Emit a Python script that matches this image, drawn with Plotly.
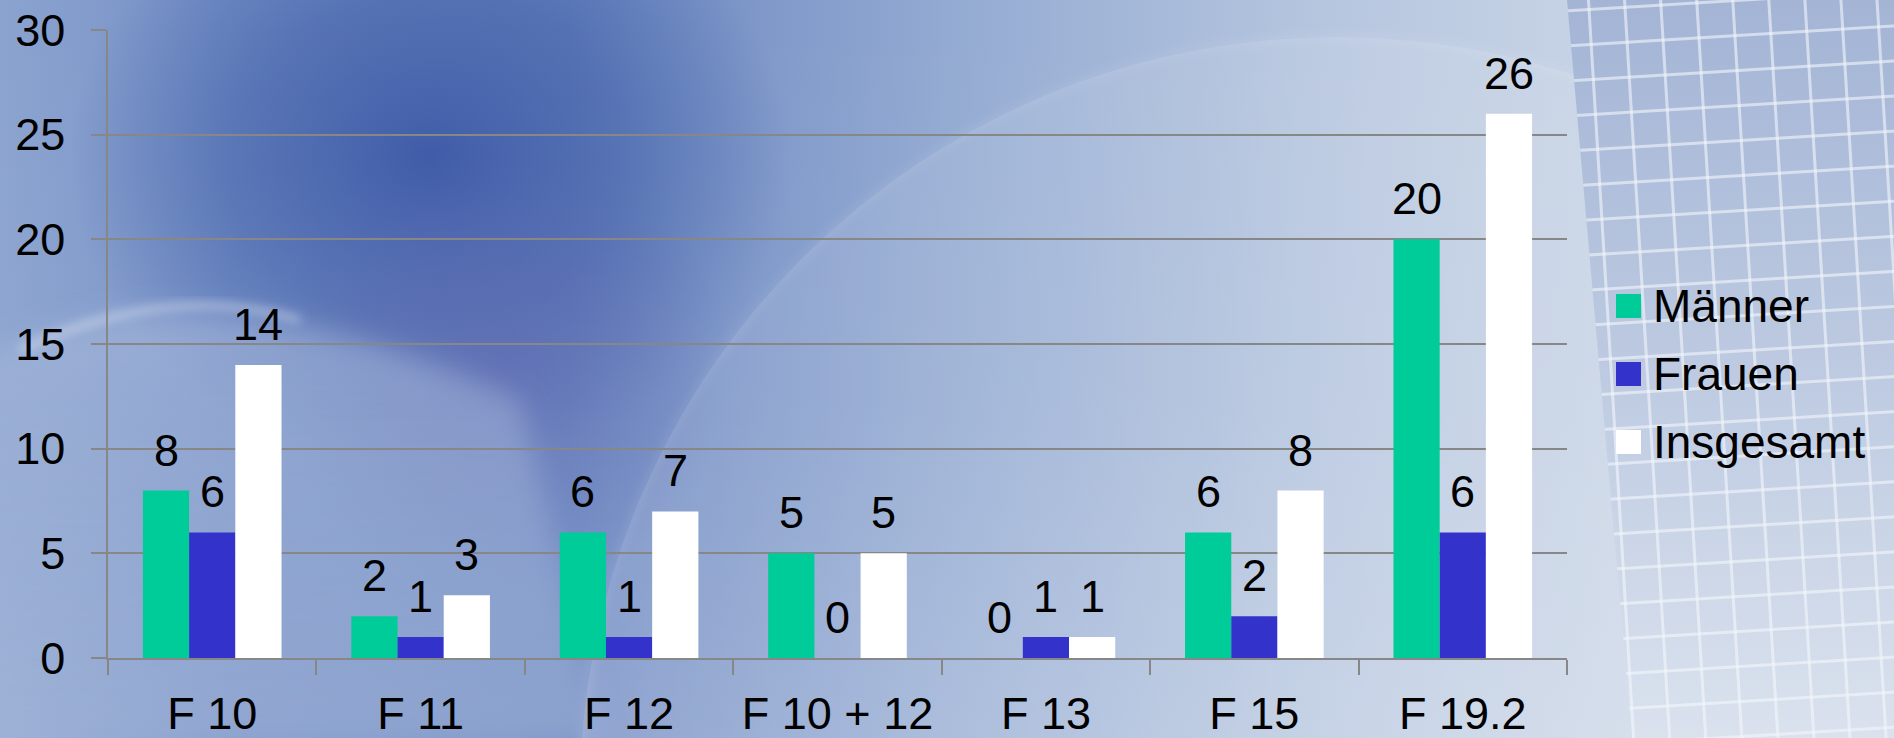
import base64
import plotly.graph_objects as go

# ---------------- data ----------------
categories = ["F 10", "F 11", "F 12", "F 10 + 12", "F 13", "F 15", "F 19.2"]
maenner = [8, 2, 6, 5, 0, 6, 20]
frauen = [6, 1, 1, 0, 1, 2, 6]
insgesamt = [14, 3, 7, 5, 1, 8, 26]
series_names = ["Männer", "Frauen", "Insgesamt"]
series_colors = ["#00CC99", "#3333CC", "#FFFFFF"]
y_ticks = [0, 5, 10, 15, 20, 25, 30]

# ---------------- geometry ----------------
W, H = 1894, 738
L, R, T, B = 108, 327, 30, 80
PW, PH = W - L - R, H - T - B
BARGAP = 0.335
FONT = "Liberation Sans, Arial, sans-serif"
FS = 45
GRID = "#878787"


def px2x(px):
    return (px - L) / PW


def py2y(py):
    return (H - B - py) / PH


# ---------------- background (svg) ----------------
svg = f"""<svg xmlns='http://www.w3.org/2000/svg' width='{W}' height='{H}' viewBox='0 0 {W} {H}' preserveAspectRatio='none'>
<defs>
<linearGradient id='base' x1='0' y1='0' x2='1' y2='0'>
 <stop offset='0' stop-color='#8ba3cf'/>
 <stop offset='0.12' stop-color='#7590c6'/>
 <stop offset='0.3' stop-color='#6a86c0'/>
 <stop offset='0.5' stop-color='#93aad2'/>
 <stop offset='0.7' stop-color='#b6c6df'/>
 <stop offset='0.85' stop-color='#c8d4e6'/>
 <stop offset='1' stop-color='#dae2ee'/>
</linearGradient>
<linearGradient id='vert' x1='0' y1='0' x2='0' y2='1'>
 <stop offset='0' stop-color='#ffffff' stop-opacity='0'/>
 <stop offset='0.55' stop-color='#ffffff' stop-opacity='0.04'/>
 <stop offset='1' stop-color='#ffffff' stop-opacity='0.15'/>
</linearGradient>
<radialGradient id='dark' cx='430' cy='160' r='360' gradientUnits='userSpaceOnUse' gradientTransform='translate(430 160) scale(1 0.85) translate(-430 -160)'>
 <stop offset='0' stop-color='#3a57a6' stop-opacity='0.95'/>
 <stop offset='0.55' stop-color='#4462aa' stop-opacity='0.6'/>
 <stop offset='1' stop-color='#4a66ad' stop-opacity='0'/>
</radialGradient>
<radialGradient id='purple' cx='500' cy='370' r='230' gradientUnits='userSpaceOnUse'>
 <stop offset='0' stop-color='#5a62ae' stop-opacity='0.55'/>
 <stop offset='1' stop-color='#5a62ae' stop-opacity='0'/>
</radialGradient>
<linearGradient id='lowfill' x1='0' y1='0' x2='0' y2='1'>
 <stop offset='0' stop-color='#a6b8da' stop-opacity='0.55'/>
 <stop offset='1' stop-color='#8fa6cf' stop-opacity='0.35'/>
</linearGradient>
<linearGradient id='panel' x1='0' y1='0' x2='0' y2='1'>
 <stop offset='0' stop-color='#a3b4d5'/>
 <stop offset='0.5' stop-color='#bdcae1'/>
 <stop offset='1' stop-color='#dae2ee'/>
</linearGradient>
<pattern id='grid' width='36' height='35' patternUnits='userSpaceOnUse' patternTransform='rotate(-3.5)'>
 <rect x='0' y='0' width='36' height='3' fill='#f4f7fc' fill-opacity='0.6'/>
 <rect x='0' y='0' width='3' height='35' fill='#f4f7fc' fill-opacity='0.6'/>
</pattern>
<filter id='blur' x='-20%' y='-20%' width='140%' height='140%'><feGaussianBlur stdDeviation='5'/></filter>
<filter id='blur2' x='-20%' y='-20%' width='140%' height='140%'><feGaussianBlur stdDeviation='14'/></filter>
</defs>
<rect width='{W}' height='{H}' fill='url(#base)'/>
<rect width='{W}' height='{H}' fill='url(#dark)'/>
<rect width='{W}' height='{H}' fill='url(#purple)'/>
<path d='M -20 360 Q 190 250 520 400 L 600 {H} L -20 {H} Z' fill='url(#lowfill)' filter='url(#blur2)'/>
<path d='M 20 350 Q 170 280 300 320' fill='none' stroke='#ffffff' stroke-opacity='0.3' stroke-width='9' filter='url(#blur)'/>
<circle cx='1337' cy='794' r='757' fill='#ffffff' fill-opacity='0.10'/>
<circle cx='1337' cy='794' r='757' fill='none' stroke='#ffffff' stroke-opacity='0.2' stroke-width='3' filter='url(#blur)'/>
<rect width='{W}' height='{H}' fill='url(#vert)'/>
<polygon points='1567,0 {W},0 {W},{H} 1632,{H}' fill='url(#panel)'/>
<polygon points='1567,0 {W},0 {W},{H} 1632,{H}' fill='url(#grid)'/>
</svg>"""
bg_src = "data:image/svg+xml;base64," + base64.b64encode(svg.encode("utf-8")).decode("ascii")

# ---------------- figure ----------------
fig = go.Figure()
all_vals = [maenner, frauen, insgesamt]
for name, vals, col in zip(series_names, all_vals, series_colors):
    fig.add_trace(go.Bar(
        x=categories, y=vals, name=name,
        marker=dict(color=col, line=dict(width=0)),
        showlegend=False, hoverinfo="x+y+name",
    ))

cat_w = PW / len(categories)
bar_w = cat_w * (1 - BARGAP) / len(all_vals)

annotations = []
for i, vals in enumerate(all_vals):
    shift = (i - (len(all_vals) - 1) / 2) * bar_w
    for c, v in zip(categories, vals):
        annotations.append(dict(
            x=c, y=v, xref="x", yref="y", text=str(v), showarrow=False,
            xanchor="center", yanchor="bottom", xshift=shift, yshift=13,
            font=dict(family=FONT, size=FS, color="#000000"),
        ))

# custom legend
legend_rows_py = [306, 374, 442]
shapes = []
for name, col, cy in zip(series_names, series_colors, legend_rows_py):
    shapes.append(dict(
        type="rect", xref="paper", yref="paper",
        x0=px2x(1616), x1=px2x(1641), y0=py2y(cy + 12), y1=py2y(cy - 12),
        fillcolor=col, line=dict(width=0), layer="above",
    ))
    annotations.append(dict(
        x=px2x(1651), y=py2y(cy), xref="paper", yref="paper", text=name,
        showarrow=False, xanchor="left", yanchor="middle",
        font=dict(family=FONT, size=FS + 1, color="#000000"),
    ))

fig.update_layout(
    width=W, height=H,
    margin=dict(l=L, r=R, t=T, b=B, pad=0, autoexpand=False),
    paper_bgcolor="rgba(0,0,0,0)",
    plot_bgcolor="rgba(0,0,0,0)",
    barmode="group", bargap=BARGAP, bargroupgap=0,
    font=dict(family=FONT, size=FS, color="#000000"),
    images=[dict(
        source=bg_src, xref="paper", yref="paper",
        x=-L / PW, y=1 + T / PH, sizex=W / PW, sizey=H / PH,
        xanchor="left", yanchor="top", sizing="stretch", layer="below",
    )],
    xaxis=dict(
        type="category", automargin=False, showgrid=False, showline=True,
        linecolor=GRID, linewidth=1.5,
        ticks="outside", tickson="boundaries", ticklen=15, tickcolor=GRID, tickwidth=1.5,
        tickfont=dict(family=FONT, size=FS, color="#000000"), ticklabelstandoff=15,
        fixedrange=True,
    ),
    yaxis=dict(
        range=[0, 30], tickvals=y_ticks, automargin=False, showgrid=True,
        gridcolor=GRID, gridwidth=1.5,
        zeroline=False, showline=True, linecolor=GRID, linewidth=1.5,
        ticks="outside", ticklen=15, tickcolor=GRID, tickwidth=1.5,
        tickfont=dict(family=FONT, size=FS, color="#000000"), ticklabelstandoff=17,
        fixedrange=True,
    ),
    annotations=annotations,
    shapes=shapes,
)

fig.write_html("out.html", config={"displayModeBar": False})
